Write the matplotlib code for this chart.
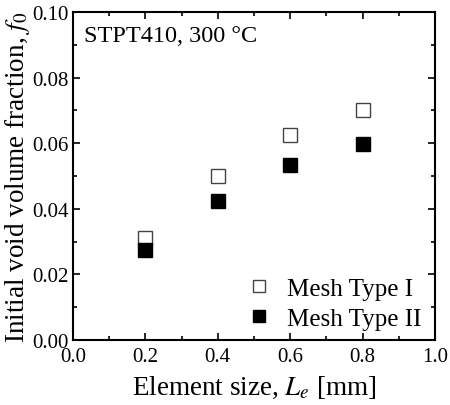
import matplotlib
matplotlib.use("Agg")
import matplotlib.pyplot as plt
from matplotlib.ticker import MultipleLocator

plt.rcParams['font.family'] = ['Liberation Serif', 'DejaVu Serif']
plt.rcParams['mathtext.fontset'] = 'stix'

element_size = [0.2, 0.4, 0.6, 0.8]
f0_type1 = [0.0312, 0.0500, 0.0625, 0.0701]
f0_type2 = [0.0274, 0.0423, 0.0534, 0.0598]

fig = plt.figure(figsize=(4.5, 4.06), dpi=100)
ax = fig.add_axes([73 / 450, 1 - 341 / 406, 362 / 450, 328 / 406])

ax.plot(element_size, f0_type1, 's', ms=10, mfc='white', mec='#444444', mew=1.0,
        label='Mesh Type I')
ax.plot(element_size, f0_type2, 's', ms=10, mfc='black', mec='black',
        label='Mesh Type II')

ax.set_xlim(0.0, 1.0)
ax.set_ylim(0.0, 0.10)
ax.xaxis.set_major_locator(MultipleLocator(0.2))
ax.xaxis.set_minor_locator(MultipleLocator(0.1))
ax.yaxis.set_major_locator(MultipleLocator(0.02))
ax.yaxis.set_minor_locator(MultipleLocator(0.01))
ax.xaxis.set_major_formatter(lambda v, p: f"{v:.1f}")
ax.yaxis.set_major_formatter(lambda v, p: f"{v:.2f}")
ax.tick_params(which='both', direction='in', top=True, right=True, width=1.2)
ax.tick_params(which='major', length=5, labelsize=15)
ax.tick_params(axis='x', which='major', pad=5)
ax.tick_params(axis='y', which='major', pad=3)
ax.tick_params(which='minor', length=3)
for s in ax.spines.values():
    s.set_linewidth(1.5)

ax.set_xlabel('Element size, $L_e$ [mm]', fontsize=19.5, labelpad=6)
ax.set_ylabel('Initial void volume fraction, $f_0$', fontsize=19.5, labelpad=0)

ax.text(0.03, 0.96, 'STPT410, 300 \u00b0C', transform=ax.transAxes,
        fontsize=17.5, va='top', ha='left')

leg = ax.legend(loc='lower right', frameon=False, fontsize=18, handletextpad=0.6,
                borderaxespad=0.0, labelspacing=0.3, handlelength=1.0,
                markerscale=0.9, bbox_to_anchor=(0.99, 0.0))

fig.savefig('out.png', dpi=100)
